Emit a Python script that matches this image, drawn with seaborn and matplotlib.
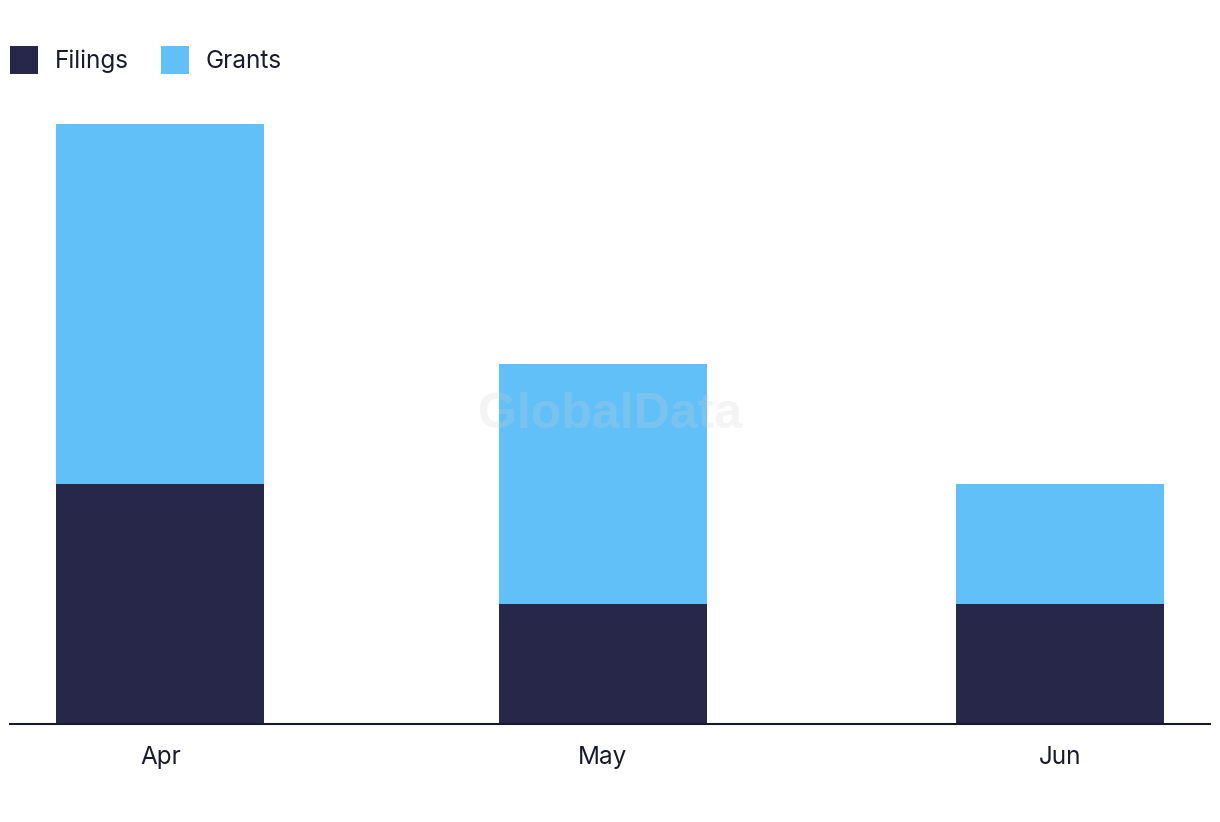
import matplotlib
matplotlib.use("Agg")
import matplotlib.pyplot as plt
import matplotlib.dates as mdates
import seaborn as sns
import pandas as pd
import datetime as dt
from matplotlib.patches import Patch

months = ["Apr", "May", "Jun"]
month_dates = [dt.date(2024, 4, 1), dt.date(2024, 5, 1), dt.date(2024, 6, 1)]
filings = [2, 1, 1]
grants = [3, 2, 1]

c_fil = "#272849"
c_gra = "#62C0F8"

sns.set_theme(style="white")
plt.rcParams["font.family"] = ["Inter", "DejaVu Sans"]

xnum = [mdates.date2num(d) for d in month_dates]
df = pd.DataFrame({"x": xnum, "Filings": filings, "Grants": grants})
df["Total"] = df["Filings"] + df["Grants"]

fig = plt.figure(figsize=(12.2, 8.22), dpi=100)
ax = fig.add_axes([10/1220, 98/822, 1200/1220, 624/822])

sns.barplot(data=df, x="x", y="Total", native_scale=True, color=c_gra,
            saturation=1, width=0.47, errorbar=None, ax=ax, linewidth=0)
sns.barplot(data=df, x="x", y="Filings", native_scale=True, color=c_fil,
            saturation=1, width=0.47, errorbar=None, ax=ax, linewidth=0)

ax.set_xlim(xnum[0] - 10.2, xnum[-1] + 10.2)
ax.set_ylim(0, 5.2)
ax.set_xticks(xnum)
ax.set_xticklabels(months, fontsize=17.5, color="#1a1a2e")
ax.set_yticks([])
ax.set_xlabel("")
ax.set_ylabel("")
ax.tick_params(axis="x", length=0, pad=16)
for s in ["top", "left", "right"]:
    ax.spines[s].set_visible(False)
ax.spines["bottom"].set_color("#1a1a2e")
ax.spines["bottom"].set_linewidth(1.5)

ax.text(0.5, 0.495, "GlobalData", transform=fig.transFigure, ha="center",
        va="center", fontsize=36, fontweight="bold", family="Liberation Sans",
        color="#d0d0d0", alpha=0.22, zorder=10)

handles = [Patch(facecolor=c_fil, edgecolor="none", label="Filings"),
           Patch(facecolor=c_gra, edgecolor="none", label="Grants")]
leg = fig.legend(handles=handles, loc="upper left", bbox_to_anchor=(10/1220, 1 - 46/822),
                 ncol=2, frameon=False, fontsize=17.5, handlelength=1.15,
                 handleheight=1.395, handletextpad=0.7, columnspacing=1.3,
                 borderpad=0, borderaxespad=0)
for t in leg.get_texts():
    t.set_color("#1a1a2e")

fig.savefig("out.png", dpi=100)
